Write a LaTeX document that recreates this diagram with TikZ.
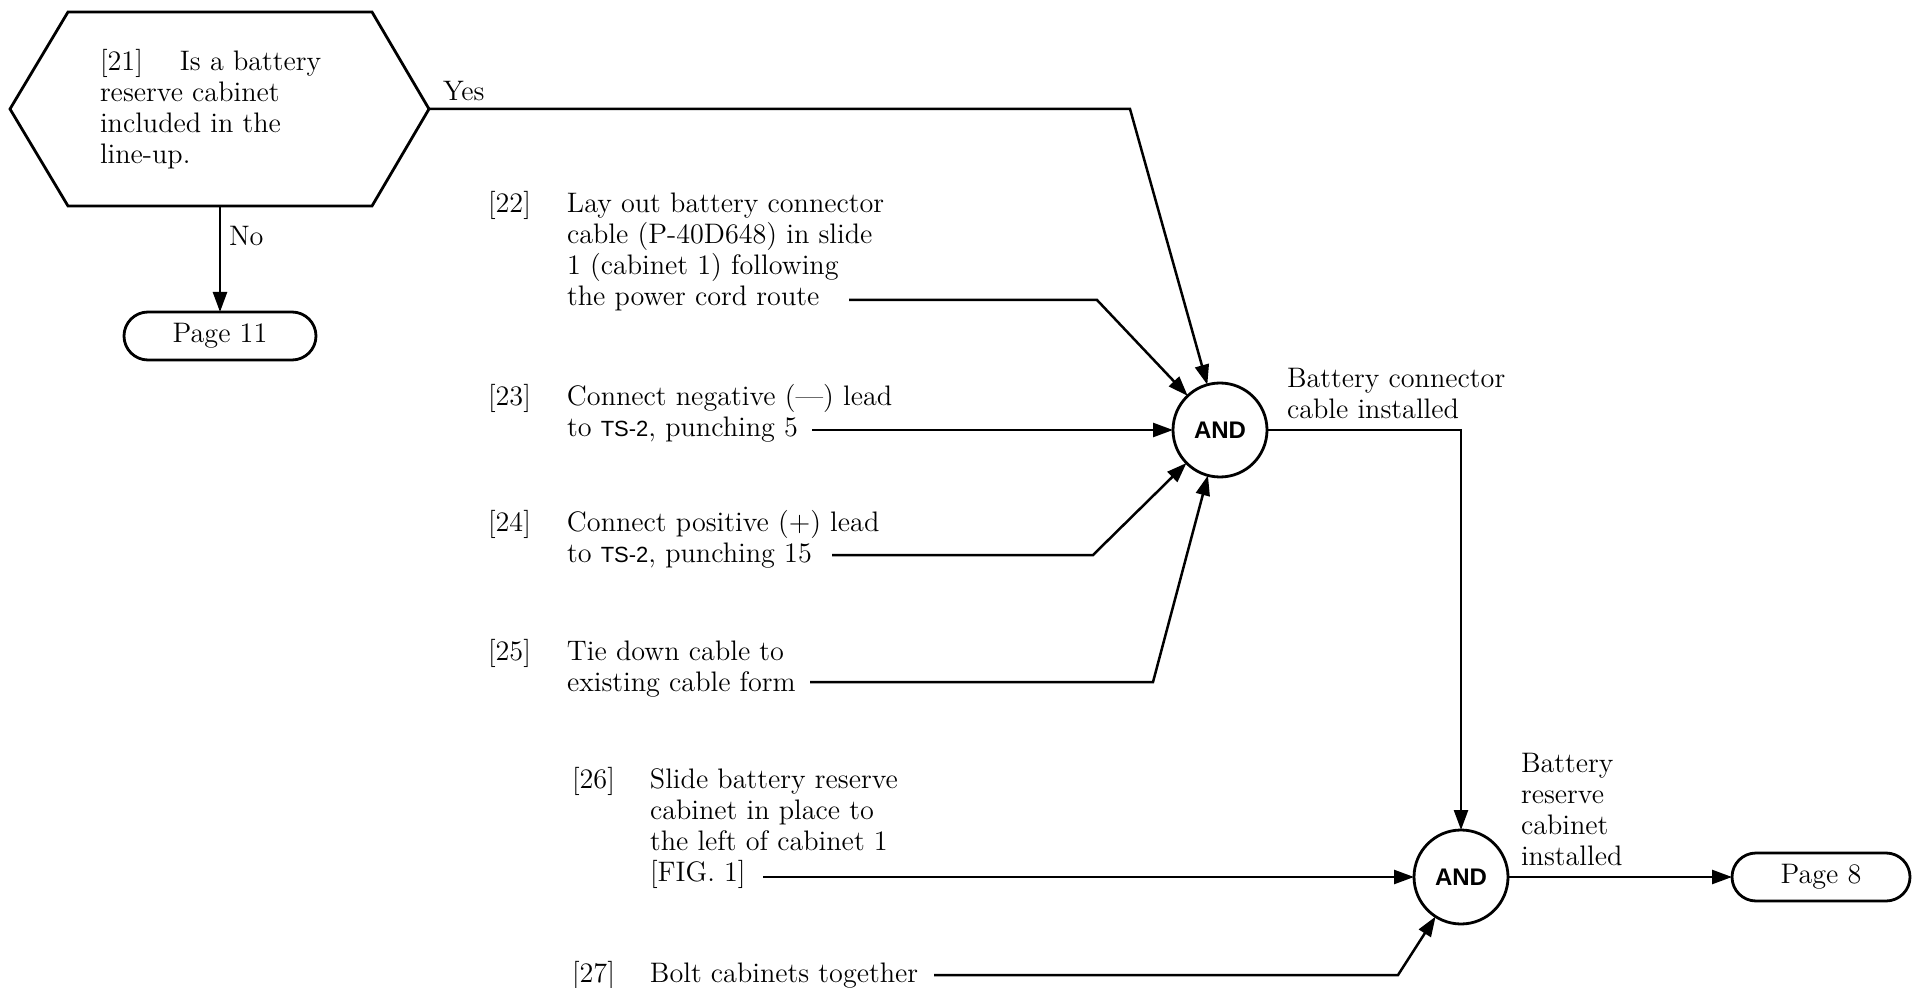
\documentclass[tikz,border=0pt]{standalone}
\usepackage{fontspec}
\newfontfamily\andfont{Liberation Sans}
\usetikzlibrary{arrows.meta}
\newcommand{\tsname}{{\andfont\fontsize{11pt}{15.5pt}\selectfont TS-2}}
\tikzset{
  txt/.style={inner sep=0pt, outer sep=0pt, anchor=base west, font=\fontsize{14.1pt}{15.5pt}\selectfont},
  conn/.style={line width=1.25pt, -{Triangle[length=10pt,width=7pt]}},
  gate/.style={circle, draw, line width=1.4pt, minimum size=47pt, inner sep=0pt, outer sep=0pt,
    font=\andfont\bfseries\fontsize{12pt}{14pt}\selectfont},
  term/.style={draw, line width=1.4pt, rounded corners=12pt, minimum height=24pt, inner sep=0pt, outer sep=0pt,
    font=\fontsize{14.1pt}{15.5pt}\selectfont},
  hexbox/.style={draw=none, minimum width=152pt, minimum height=97pt, inner sep=0pt, outer sep=0pt},
}
\begin{document}
\begin{tikzpicture}[x=0.5pt, y=-0.5pt]
\useasboundingbox (0,0) rectangle (1914,988);

% decision hexagon
\node[hexbox] (q21) at (220,109) {};
\draw[line width=1.4pt, line join=miter] (q21.north west) -- (q21.north east) -- ([xshift=28.5pt]q21.east)
  -- (q21.south east) -- (q21.south west) -- ([xshift=-29pt]q21.west) -- cycle;
\coordinate (hxE) at ([xshift=28.5pt]q21.east);
\node[txt] (t21) at (100,71) {\begin{tabular}[t]{@{}l@{}}\makebox[40pt][l]{[21]}Is a battery\\ reserve cabinet\\ included in the\\ line-up.\end{tabular}};

% terminals
\node[term, minimum width=96pt] (p11) at (220,336) {Page 11};
\node[term, minimum width=89pt] (p8) at (1821,877) {Page 8};

% AND gates
\node[gate] (a1) at (1220,430) {AND};
\node[gate] (a2) at (1461,877) {AND};

% step texts
\node[txt] (t22) at (488,213) {\begin{tabular}[t]{@{}p{39.5pt}@{}l@{}}{[22]} & Lay out battery connector\\ & cable (P-40D648) in slide\\ & 1 (cabinet 1) following\\ & the power cord route\end{tabular}};
\node[txt] (t23) at (488,406) {\begin{tabular}[t]{@{}p{39.5pt}@{}l@{}}{[23]} & Connect negative (---) lead\\ & to \tsname, punching 5\end{tabular}};
\node[txt] (t24) at (488,531) {\begin{tabular}[t]{@{}p{39.5pt}@{}l@{}}{[24]} & Connect positive (+) lead\\ & to \tsname, punching 15\end{tabular}};
\node[txt] (t25) at (488,660) {\begin{tabular}[t]{@{}p{39.5pt}@{}l@{}}{[25]} & Tie down cable to\\ & existing cable form\end{tabular}};
\node[txt] (t26) at (572,788) {\begin{tabular}[t]{@{}p{39pt}@{}l@{}}{[26]} & Slide battery reserve\\ & cabinet in place to\\ & the left of cabinet 1\\ & {[FIG. 1]}\end{tabular}};
\node[txt] (t27) at (572,982) {\begin{tabular}[t]{@{}p{39pt}@{}l@{}}{[27]} & Bolt cabinets together\end{tabular}};

% state labels
\node[txt] (bcl) at (1287,388) {\begin{tabular}[t]{@{}l@{}}Battery connector\\ cable installed\end{tabular}};
\node[txt] (brl) at (1521,772) {\begin{tabular}[t]{@{}l@{}}Battery\\ reserve\\ cabinet\\ installed\end{tabular}};
\node[txt] (yes) at (443,101) {Yes};
\node[txt] (no) at (229,246) {No};

% connector start points (ends of the step texts)
\coordinate (s22) at (849,300);
\coordinate (s23) at (812,430);
\coordinate (s24) at (832,555);
\coordinate (s25) at (810,682);
\coordinate (s26) at (763,877);
\coordinate (s27) at (934,975);

% connectors
\draw[conn] (hxE) -- (1130,109) -- (a1);
\draw[conn] (q21.south) -- (p11.north);
\draw[conn] (s22) -- (1097,300) -- (a1);
\draw[conn] (s23) -- (a1);
\draw[conn] (s24) -- (1093,555) -- (a1);
\draw[conn] (s25) -- (1153,682) -- (a1);
\draw[conn] (a1.east) -| (a2.north);
\draw[conn] (s26) -- (a2);
\draw[conn] (s27) -- (1398,975) -- (a2);
\draw[conn] (a2.east) -- (p8.west);
\end{tikzpicture}
\end{document}
